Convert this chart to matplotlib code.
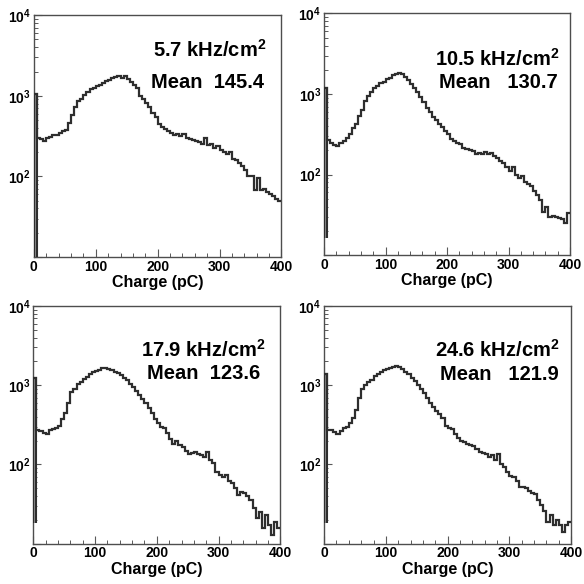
import numpy as np
import matplotlib
matplotlib.use("Agg")
import matplotlib.pyplot as plt
from matplotlib.ticker import MultipleLocator, LogLocator, NullFormatter

plt.rcParams['font.family'] = ['Liberation Sans', 'DejaVu Sans']
plt.rcParams['font.weight'] = 'bold'
plt.rcParams['mathtext.fontset'] = 'custom'
plt.rcParams['mathtext.rm'] = 'Liberation Sans:bold'
plt.rcParams['mathtext.bf'] = 'Liberation Sans:bold'
plt.rcParams['mathtext.default'] = 'bf'

# bin edges: 80 bins of 5 pC from 0 to 400
bin_width = 5
n_bins = 80

rates = ["5.7", "10.5", "17.9", "24.6"]
means = ["Mean  145.4", "Mean   130.7", "Mean  123.6", "Mean   121.9"]
spike_floor = [10, 16.5, 18.5, 18]

counts_57 = [1050, 300, 290, 275, 300, 310, 330, 325, 345, 370,
             380, 460, 580, 720, 850, 900, 1030, 1100, 1200, 1260,
             1320, 1380, 1450, 1520, 1580, 1640, 1700, 1750, 1680, 1760,
             1600, 1480, 1350, 1250, 1000, 920, 820, 720, 620, 540,
             450, 410, 390, 370, 350, 330, 335, 320, 335, 300,
             290, 285, 275, 270, 255, 300, 245, 255, 225, 240,
             215, 200, 190, 200, 165, 160, 145, 135, 120, 100,
             100, 68, 95, 68, 70, 64, 60, 57, 52, 50]

counts_105 = [1200, 270, 250, 230, 225, 245, 265, 285, 320, 380,
              420, 540, 640, 820, 940, 1050, 1180, 1260, 1380, 1430,
              1520, 1600, 1700, 1790, 1800, 1750, 1620, 1500, 1340, 1200,
              1060, 930, 790, 680, 600, 520, 480, 420, 390, 350,
              320, 280, 265, 245, 240, 215, 210, 200, 195, 180,
              185, 178, 190, 180, 185, 170, 160, 148, 140, 125,
              110, 125, 100, 92, 95, 82, 76, 72, 62, 56,
              48, 34, 40, 30, 31, 30, 29, 28, 25, 33]

counts_179 = [1220, 270, 265, 250, 240, 270, 280, 290, 305, 370,
              440, 600, 820, 900, 1050, 1100, 1200, 1280, 1400, 1450,
              1520, 1580, 1630, 1660, 1600, 1560, 1480, 1420, 1340, 1250,
              1160, 1050, 950, 850, 760, 670, 600, 520, 440, 380,
              330, 300, 285, 250, 212, 180, 200, 175, 165, 150,
              135, 140, 145, 135, 130, 125, 145, 115, 103, 80,
              73, 70, 74, 62, 58, 50, 41, 45, 44, 40,
              36, 28, 21, 25, 16, 23, 17, 13, 19, 16]

counts_246 = [1400, 275, 270, 255, 245, 265, 285, 300, 335, 390,
              490, 690, 900, 1000, 1100, 1180, 1290, 1380, 1490, 1550,
              1590, 1640, 1680, 1760, 1700, 1600, 1490, 1370, 1220, 1120,
              1000, 890, 800, 690, 590, 530, 470, 430, 390, 310,
              290, 280, 240, 215, 200, 190, 180, 175, 170, 155,
              145, 140, 135, 125, 130, 115, 135, 100, 92, 80,
              72, 70, 62, 52, 52, 50, 46, 44, 42, 36,
              31, 26, 19, 23, 17, 20, 17, 14, 17, 19]

all_counts = [counts_57, counts_105, counts_179, counts_246]

# axes boxes in figure fractions [left, bottom, width, height]
boxes = [[0.058, 0.560, 0.424, 0.414],
         [0.555, 0.563, 0.421, 0.414],
         [0.057, 0.069, 0.423, 0.407],
         [0.555, 0.069, 0.423, 0.407]]
text_y = [(0.826, 0.700), (0.785, 0.690), (0.786, 0.693), (0.786, 0.690)]
text_x = [(0.94, 0.93), (0.96, 0.95), (0.94, 0.92), (0.955, 0.95)]

line_col = '#2e2e2e'
edges = np.arange(n_bins + 1) * bin_width

fig = plt.figure(figsize=(5.84, 5.84), dpi=100)

for i in range(4):
    ax = fig.add_axes(boxes[i])
    vals = np.array(all_counts[i], dtype=float)
    # low-charge spike, filled grey down to its floor
    ax.stairs(vals[:1], edges[:2], baseline=spike_floor[i], fill=True,
              color='0.6', zorder=2)
    ax.stairs(vals[:1], edges[:2], baseline=spike_floor[i], color=line_col,
              linewidth=1.5, zorder=3)
    ax.stairs(vals, edges, baseline=None, color=line_col, linewidth=1.6, zorder=3)

    ax.set_yscale('log')
    ax.set_xlim(0, 400)
    ax.set_ylim(10, 1e4)

    ax.set_yticks([10, 100, 1000, 10000])
    ax.set_yticklabels(['', r'$10^{2}$', r'$10^{3}$', r'$10^{4}$'])
    ax.yaxis.set_minor_locator(LogLocator(base=10, subs=np.arange(2, 10)))
    ax.yaxis.set_minor_formatter(NullFormatter())
    ax.xaxis.set_major_locator(MultipleLocator(100))
    ax.xaxis.set_minor_locator(MultipleLocator(20))

    ax.tick_params(which='both', direction='in', top=False, right=False,
                   colors='0.35', labelcolor='black')
    ax.tick_params(which='major', length=6, width=0.8, labelsize=10, pad=2)
    ax.tick_params(which='minor', length=3, width=0.7)
    for lab in ax.get_xticklabels():
        lab.set_fontweight('bold')
    for sp in ax.spines.values():
        sp.set_color('0.3')
        sp.set_linewidth(1.0)

    ax.set_xlabel('Charge (pC)', fontsize=11.5, fontweight='bold', labelpad=1)

    ax.text(text_x[i][0], text_y[i][0], rates[i] + r' kHz/cm$^{2}$',
            transform=ax.transAxes, ha='right', va='baseline',
            fontsize=14.5, fontweight='bold')
    ax.text(text_x[i][1], text_y[i][1], means[i],
            transform=ax.transAxes, ha='right', va='baseline',
            fontsize=14.5, fontweight='bold')

fig.savefig('out.png', dpi=100)
